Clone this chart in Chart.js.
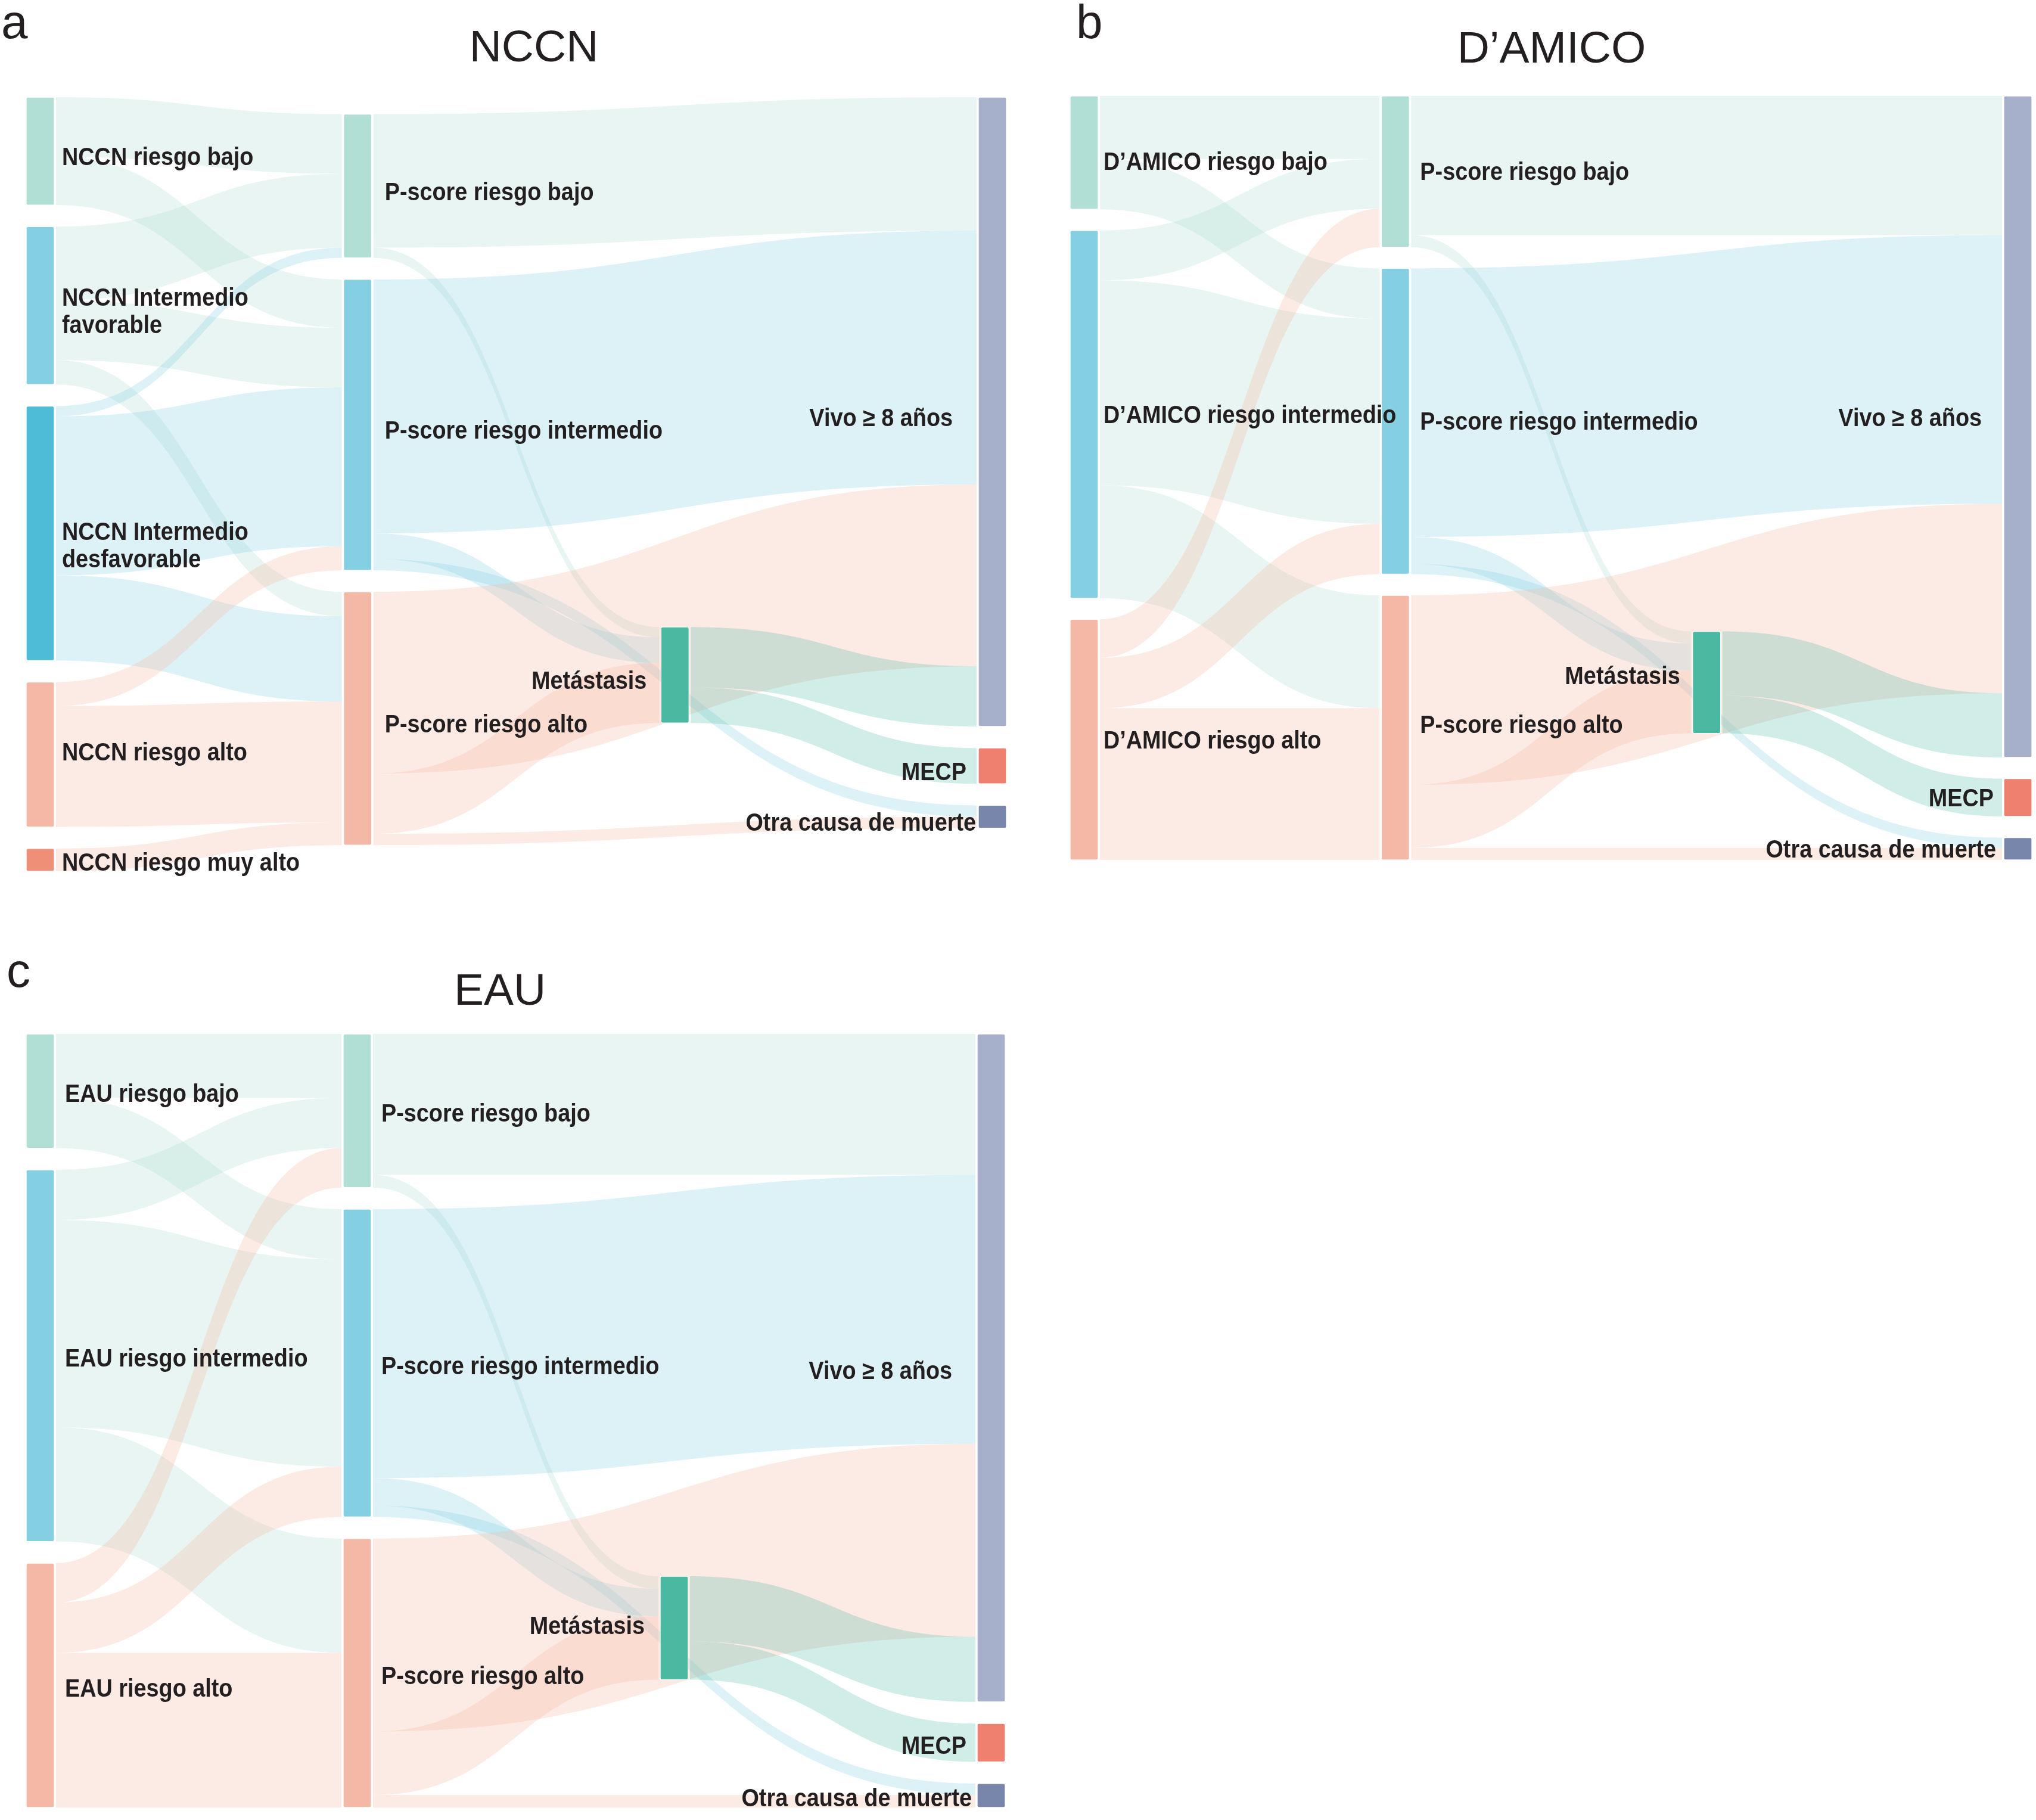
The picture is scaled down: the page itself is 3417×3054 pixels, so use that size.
<!DOCTYPE html>
<html>
<head>
<meta charset="utf-8">
<script src="https://cdn.jsdelivr.net/npm/chart.js@4.4.1/dist/chart.umd.min.js"></script>
<style>
  body { margin: 0; background: #fff; width: 3417px; height: 3054px; position: relative; overflow: hidden;
         font-family: "Liberation Sans", Arial, sans-serif; color: #231f20; }
  .panel { position: absolute; }
  .letter { position: absolute; font-size: 80px; line-height: 1; }
  .title { position: absolute; font-size: 75px; line-height: 1; transform: translateX(-50%); white-space: nowrap; }
</style>
</head>
<body>
<div class="letter" style="left:2px;top:-3px">a</div>
<div class="letter" style="left:1806px;top:-3px">b</div>
<div class="letter" style="left:11px;top:1589px">c</div>
<div class="title" style="left:896px;top:40px">NCCN</div>
<div class="title" style="left:2604px;top:42px">D’AMICO</div>
<div class="title" style="left:839px;top:1623px">EAU</div>

<div class="panel" style="left:0;top:0"><canvas id="nccn" width="1710" height="1500"></canvas></div>
<div class="panel" style="left:1750px;top:0"><canvas id="damico" width="1667" height="1500"></canvas></div>
<div class="panel" style="left:0;top:1560px"><canvas id="eau" width="1710" height="1494"></canvas></div>

<script>
// ---- data (flow sizes, arbitrary units) ----
const pscoreNodes = ["P-score riesgo bajo", "P-score riesgo intermedio", "P-score riesgo alto"];
const metNode = "Metástasis";
const outcomeNodes = ["Vivo ≥ 8 años", "MECP", "Otra causa de muerte"];

// NCCN
const nccnGroups = ["NCCN riesgo bajo", "NCCN Intermedio\nfavorable", "NCCN Intermedio\ndesfavorable", "NCCN riesgo alto", "NCCN riesgo muy alto"];
// rows: group, cols: P-score bajo / intermedio / alto
const nccnToPscore = [[105, 85, 0], [130, 105, 43], [18, 280, 150], [0, 42, 213], [0, 0, 40]];
// rows: P-score, cols: Vivo / Metástasis / Otra causa
const nccnPscoreOut = [[235, 18, 0], [447, 45, 20], [320, 106, 20]];
// Metástasis -> Vivo / MECP
const nccnMetOut = [106, 63];

// D'AMICO
const damicoGroups = ["D’AMICO riesgo bajo", "D’AMICO riesgo intermedio", "D’AMICO riesgo alto"];
const damicoToPscore = [[110, 88, 0], [87, 358, 197], [67, 88, 265]];
const damicoPscoreOut = [[243, 21, 0], [469, 47, 18], [331, 110, 21]];
const damicoMetOut = [112, 66];

// EAU
const eauGroups = ["EAU riesgo bajo", "EAU riesgo intermedio", "EAU riesgo alto"];
const eauToPscore = [[112, 88, 0], [88, 363, 200], [69, 88, 271]];
const eauPscoreOut = [[247, 22, 0], [471, 48, 20], [338, 111, 22]];
const eauMetOut = [114, 67];

// ---- styles ----
const fillColors = {
  mint: '#b2dfd5', blue: '#84d0e2', dblue: '#4ebcd6', salmon: '#f4b8a6', coral: '#ef8f78',
  teal: '#4bb9a2', vivo: '#a6b0cb', mecp: '#ef8070', otra: '#7886ab'
};
const linkColors = {
  mint: 'rgba(178,223,213,0.3)', blue: 'rgba(132,208,226,0.28)',
  pink: 'rgba(244,184,166,0.3)', teal: 'rgba(75,185,162,0.26)'
};
const pscoreFill = ['mint', 'blue', 'salmon'];
const pscoreLink = ['mint', 'blue', 'pink'];
const outcomeFill = ['vivo', 'mecp', 'otra'];

const NODE_W = 47;
const LINK_GAP = 3;
const LABEL_FONT = 'bold 42px "Liberation Sans", Arial, sans-serif';
const LABEL_SQUEEZE = 0.9;

const panels = [
  { id: 'nccn', groups: nccnGroups, toPscore: nccnToPscore, pscoreOut: nccnPscoreOut, metOut: nccnMetOut,
    groupFill: ['mint', 'blue', 'dblue', 'salmon', 'coral'], groupLink: ['mint', 'mint', 'blue', 'pink', 'pink'],
    box: { left: 0, top: 0, w: 1710, h: 1500 }, area: { l: 44, t: 163, r: 1689, b: 1462 },
    colOffset: [0, 30, 933, 0], gap: 38, pad: [13, 22, 24, [43, 20, 4]],
    labelDy: 12, labelNudge: { "NCCN Intermedio\ndesfavorable": 10, "NCCN riesgo alto": -14, "NCCN riesgo muy alto": -6 } },
  { id: 'damico', groups: damicoGroups, toPscore: damicoToPscore, pscoreOut: damicoPscoreOut, metOut: damicoMetOut,
    groupFill: ['mint', 'blue', 'salmon'], groupLink: ['mint', 'mint', 'pink'],
    box: { left: 1750, top: 0, w: 1667, h: 1500 }, area: { l: 1796, t: 161, r: 3410, b: 1443 },
    colOffset: [0, 0, 935, 0], gap: 37, pad: [9, 18, 21, [37, 17, 13]],
    labelDy: 3, labelNudge: { "D’AMICO riesgo bajo": 14, "Metástasis": -12, "Vivo ≥ 8 años": -16, "P-score riesgo alto": -6 } },
  { id: 'eau', groups: eauGroups, toPscore: eauToPscore, pscoreOut: eauPscoreOut, metOut: eauMetOut,
    groupFill: ['mint', 'blue', 'salmon'], groupLink: ['mint', 'mint', 'pink'],
    box: { left: 0, top: 1560, w: 1710, h: 1494 }, area: { l: 44, t: 1735, r: 1687, b: 3033 },
    colOffset: [0, 0, 950, 0], gap: 38, pad: [18, 17, 26, [42, 18, 9]],
    labelDy: 7, labelNudge: { "Metástasis": -8 } }
];

function buildSankey(cfg) {
  const nodes = [];
  cfg.groups.forEach((name, i) => nodes.push({ name, col: 0, fill: cfg.groupFill[i], link: cfg.groupLink[i] }));
  pscoreNodes.forEach((name, i) => nodes.push({ name, col: 1, fill: pscoreFill[i], link: pscoreLink[i] }));
  nodes.push({ name: metNode, col: 2, fill: 'teal', link: 'teal' });
  outcomeNodes.forEach((name, i) => nodes.push({ name, col: 3, fill: outcomeFill[i], link: null }));

  const P0 = cfg.groups.length, M = P0 + 3, O0 = P0 + 4;
  const links = [];
  cfg.toPscore.forEach((row, i) => row.forEach((v, j) => { if (v) links.push({ s: i, t: P0 + j, v }); }));
  const outTargets = [O0, M, O0 + 2];
  cfg.pscoreOut.forEach((row, j) => row.forEach((v, k) => { if (v) links.push({ s: P0 + j, t: outTargets[k], v }); }));
  cfg.metOut.forEach((v, k) => links.push({ s: M, t: O0 + k, v }));

  nodes.forEach(n => { n.inV = 0; n.outV = 0; });
  links.forEach(l => { nodes[l.s].outV += l.v; nodes[l.t].inV += l.v; });
  nodes.forEach(n => { n.v = Math.max(n.inV, n.outV); });

  let yMax = 0;
  for (let c = 0; c < 4; c++) {
    let y = cfg.colOffset[c];
    nodes.filter(n => n.col === c).forEach(n => { n.y0 = y; n.y1 = y + n.v; y = n.y1 + cfg.gap; });
    yMax = Math.max(yMax, y - cfg.gap);
  }

  nodes.forEach((n, idx) => {
    let ys = n.y0;
    links.filter(l => l.s === idx).sort((a, b) => nodes[a.t].y0 - nodes[b.t].y0)
      .forEach(l => { l.sy = ys; ys += l.v; });
    let yt = n.y0;
    links.filter(l => l.t === idx).sort((a, b) => nodes[a.s].y0 - nodes[b.s].y0)
      .forEach(l => { l.ty = yt; yt += l.v; });
  });
  return { nodes, links, yMax };
}

function band(ctx, x0, x1, a0, a1, b0, b1) {
  const xm = (x0 + x1) / 2;
  ctx.beginPath();
  ctx.moveTo(x0, a0);
  ctx.bezierCurveTo(xm, a0, xm, a1, x1, a1);
  ctx.lineTo(x1, b1);
  ctx.bezierCurveTo(xm, b1, xm, b0, x0, b0);
  ctx.closePath();
  ctx.fill();
}

function makeSankeyPlugin(sk, cfg) {
  return {
    id: 'sankeyFlows',
    // flows go under the node bars
    beforeDatasetsDraw(chart) {
      const { ctx } = chart;
      const xs = chart.scales.x, ys = chart.scales.y;
      ctx.save();
      sk.links.forEach(l => {
        const s = sk.nodes[l.s], t = sk.nodes[l.t];
        const x0 = xs.getPixelForValue(s.col) + NODE_W / 2 + LINK_GAP;
        const x1 = xs.getPixelForValue(t.col) - NODE_W / 2 - LINK_GAP;
        ctx.fillStyle = linkColors[s.link];
        band(ctx, x0, x1,
          ys.getPixelForValue(l.sy), ys.getPixelForValue(l.ty),
          ys.getPixelForValue(l.sy + l.v), ys.getPixelForValue(l.ty + l.v));
      });
      ctx.restore();
    },
    afterDraw(chart) {
      const { ctx } = chart;
      const xs = chart.scales.x, ys = chart.scales.y;
      ctx.save();
      ctx.font = LABEL_FONT;
      ctx.fillStyle = '#231f20';
      ctx.textBaseline = 'middle';
      let outIdx = 0;
      sk.nodes.forEach(n => {
        const cx = xs.getPixelForValue(n.col);
        const cy = (ys.getPixelForValue(n.y0) + ys.getPixelForValue(n.y1)) / 2
          + cfg.labelDy + (cfg.labelNudge[n.name] || 0);
        let x, align;
        if (n.col < 2) {
          x = cx + NODE_W / 2 + cfg.pad[n.col];
          align = 'left';
        } else {
          const p = n.col === 2 ? cfg.pad[2] : cfg.pad[3][outIdx++];
          x = cx - NODE_W / 2 - p;
          align = 'right';
        }
        const lines = n.name.split('\n');
        lines.forEach((line, k) => {
          const ly = cy + (k - (lines.length - 1) / 2) * 46;
          ctx.save();
          ctx.translate(x, ly);
          ctx.scale(LABEL_SQUEEZE, 1);
          ctx.textAlign = align;
          ctx.fillText(line, 0, 0);
          ctx.restore();
        });
      });
      ctx.restore();
    }
  };
}

panels.forEach(cfg => {
  const sk = buildSankey(cfg);
  const areaW = cfg.area.r - cfg.area.l;
  const xHalf = (NODE_W / 2) / ((areaW - NODE_W) / 3);
  const padding = {
    left: cfg.area.l - cfg.box.left,
    top: cfg.area.t - cfg.box.top,
    right: cfg.box.left + cfg.box.w - cfg.area.r,
    bottom: cfg.box.top + cfg.box.h - cfg.area.b
  };
  new Chart(document.getElementById(cfg.id), {
    type: 'bar',
    data: {
      datasets: [{
        data: sk.nodes.map(n => ({ x: n.col, y: [n.y0, n.y1] })),
        backgroundColor: sk.nodes.map(n => fillColors[n.fill]),
        borderColor: '#ffffff',
        borderWidth: 1,
        borderSkipped: false,
        borderRadius: 3,
        barThickness: NODE_W
      }]
    },
    options: {
      responsive: false,
      animation: false,
      layout: { padding },
      scales: {
        x: { type: 'linear', offset: false, min: -xHalf, max: 3 + xHalf, display: false },
        y: { type: 'linear', min: 0, max: sk.yMax, reverse: true, display: false }
      },
      plugins: { legend: { display: false }, tooltip: { enabled: false } }
    },
    plugins: [makeSankeyPlugin(sk, cfg)]
  });
});
</script>
</body>
</html>
